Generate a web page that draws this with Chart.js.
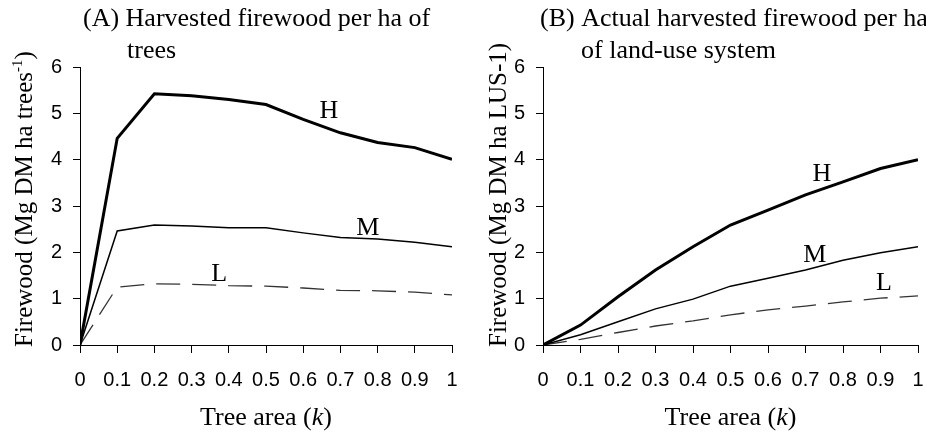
<!DOCTYPE html>
<html>
<head>
<meta charset="utf-8">
<script src="https://cdn.jsdelivr.net/npm/chart.js@4"></script>
<style>
  html, body { margin: 0; padding: 0; background: #fff; }
  .panel { position: absolute; top: 0; width: 463px; height: 435px; }
  #panelA { left: 0; }
  #panelB { left: 463px; }
</style>
</head>
<body>
<div class="panel" id="panelA"><canvas id="chartA" width="463" height="435"></canvas></div>
<div class="panel" id="panelB"><canvas id="chartB" width="463" height="435"></canvas></div>
<script>
const treeArea = [0, 0.1, 0.2, 0.3, 0.4, 0.5, 0.6, 0.7, 0.8, 0.9, 1];
const xTickLabels = ["0", "0.1", "0.2", "0.3", "0.4", "0.5", "0.6", "0.7", "0.8", "0.9", "1"];
const yTicks = [0, 1, 2, 3, 4, 5, 6];

// (A) per ha of trees
const aHigh = [0, 4.46, 5.42, 5.38, 5.3, 5.19, 4.87, 4.58, 4.37, 4.26, 4.01];
const aMid = [0, 2.46, 2.59, 2.57, 2.53, 2.53, 2.42, 2.32, 2.29, 2.22, 2.12];
const aLow = [0, 1.25, 1.32, 1.31, 1.28, 1.27, 1.23, 1.18, 1.17, 1.14, 1.08];

// (B) per ha of land-use system
const bHigh = [0, 0.43, 1.04, 1.62, 2.12, 2.59, 2.91, 3.24, 3.52, 3.81, 4.0];
const bMid = [0, 0.22, 0.5, 0.78, 0.99, 1.27, 1.44, 1.62, 1.83, 1.99, 2.12];
const bLow = [0, 0.12, 0.27, 0.41, 0.52, 0.65, 0.76, 0.84, 0.93, 1.01, 1.06];

const seriesNames = ["H", "M", "L"];
const labelsA = [[0.669, 5.05], [0.774, 2.53], [0.374, 1.53]];
const labelsB = [[0.744, 3.69], [0.725, 1.94], [0.909, 1.34]];

const serif = "'Liberation Serif', 'Times New Roman', serif";
const sans = "'Liberation Sans', Arial, sans-serif";
const textSize = 26;

function lineStyles() {
  return [
    { borderColor: "#000", borderWidth: 3 },
    { borderColor: "#000", borderWidth: 1.5 },
    { borderColor: "#333", borderWidth: 1.3, borderDash: [24, 12] },
  ];
}

function points(values) {
  return treeArea.map((x, i) => ({ x, y: values[i] }));
}

const textPlugin = {
  id: "paperText",
  afterDraw(chart, args, opts) {
    const ctx = chart.ctx;
    const area = chart.chartArea;
    const xs = chart.scales.x;
    const ys = chart.scales.y;
    const font = `${textSize}px ${serif}`;
    const italic = `italic ${textSize}px ${serif}`;
    ctx.save();
    ctx.fillStyle = "#000";
    ctx.textBaseline = "alphabetic";

    // panel title, hanging indent
    ctx.font = font;
    ctx.textAlign = "left";
    ctx.fillText(opts.title[0], opts.titleX, 26);
    ctx.fillText(opts.title[1], opts.titleX2, 58);

    // series letters
    ctx.textAlign = "center";
    ctx.textBaseline = "middle";
    opts.labels.forEach((p, i) => {
      ctx.fillText(seriesNames[i], xs.getPixelForValue(p[0]), ys.getPixelForValue(p[1]));
    });

    // x axis title with italic k
    ctx.textBaseline = "alphabetic";
    ctx.textAlign = "left";
    const parts = [
      { text: "Tree area (", font },
      { text: "k", font: italic },
      { text: ")", font },
    ];
    let total = 0;
    parts.forEach((p) => {
      ctx.font = p.font;
      p.w = ctx.measureText(p.text).width;
      total += p.w;
    });
    let x = (area.left + area.right) / 2 - total / 2;
    parts.forEach((p) => {
      ctx.font = p.font;
      ctx.fillText(p.text, x, 425);
      x += p.w;
    });

    // y axis title, rotated, optional superscript
    ctx.translate(opts.yTitleX, 347);
    ctx.rotate(-Math.PI / 2);
    let tx = 0;
    opts.yTitle.forEach((seg) => {
      if (seg.sup) {
        ctx.font = `15px ${serif}`;
        ctx.fillText(seg.text, tx, -10);
      } else {
        ctx.font = `25px ${serif}`;
        ctx.fillText(seg.text, tx, 0);
      }
      tx += ctx.measureText(seg.text).width;
    });
    ctx.restore();
  },
};

function makeChart(id, values, opts) {
  const styles = lineStyles();
  return new Chart(document.getElementById(id), {
    type: "line",
    data: {
      datasets: values.map((v, i) => ({
        label: seriesNames[i],
        data: points(v),
        pointRadius: 0,
        tension: 0,
        fill: false,
        ...styles[i],
      })),
    },
    options: {
      responsive: false,
      animation: false,
      events: [],
      layout: { padding: { top: 67, right: opts.padRight, left: 0, bottom: 0 } },
      plugins: {
        legend: { display: false },
        tooltip: { enabled: false },
        paperText: opts,
      },
      scales: {
        x: {
          type: "linear",
          min: 0,
          max: 1,
          afterBuildTicks(scale) {
            scale.ticks = treeArea.map((v) => ({ value: v }));
          },
          afterFit(scale) {
            scale.height = 90;
            scale.paddingLeft = 6;
            scale.paddingRight = 6;
          },
          ticks: {
            callback: (value, index) => xTickLabels[index],
            font: { family: sans, size: 20 },
            color: "#000",
            padding: 15,
            maxRotation: 0,
            autoSkip: false,
          },
          grid: { drawOnChartArea: false, drawTicks: true, tickLength: 8, color: "#000" },
          border: { display: true, color: "#000", width: 1 },
        },
        y: {
          min: 0,
          max: 6,
          afterBuildTicks(scale) {
            scale.ticks = yTicks.map((v) => ({ value: v }));
          },
          afterFit(scale) {
            scale.width = 80;
          },
          ticks: {
            font: { family: sans, size: 20 },
            color: "#000",
            padding: 11,
          },
          grid: { drawOnChartArea: false, drawTicks: true, tickLength: 7, color: "#000" },
          border: { display: true, color: "#000", width: 1 },
        },
      },
    },
    plugins: [textPlugin],
  });
}

makeChart("chartA", [aHigh, aMid, aLow], {
  title: ["(A) Harvested firewood per ha of", "trees"],
  titleX: 83,
  titleX2: 127,
  labels: labelsA,
  yTitleX: 32,
  yTitle: [{ text: "Firewood (Mg DM ha trees" }, { text: "-1", sup: true }, { text: ")" }],
  padRight: 11,
});

makeChart("chartB", [bHigh, bMid, bLow], {
  title: ["(B) Actual harvested firewood per ha", "of land-use system"],
  titleX: 77,
  titleX2: 118,
  labels: labelsB,
  yTitleX: 43,
  yTitle: [{ text: "Firewood (Mg DM ha LUS-1)" }],
  padRight: 8,
});
</script>
</body>
</html>
